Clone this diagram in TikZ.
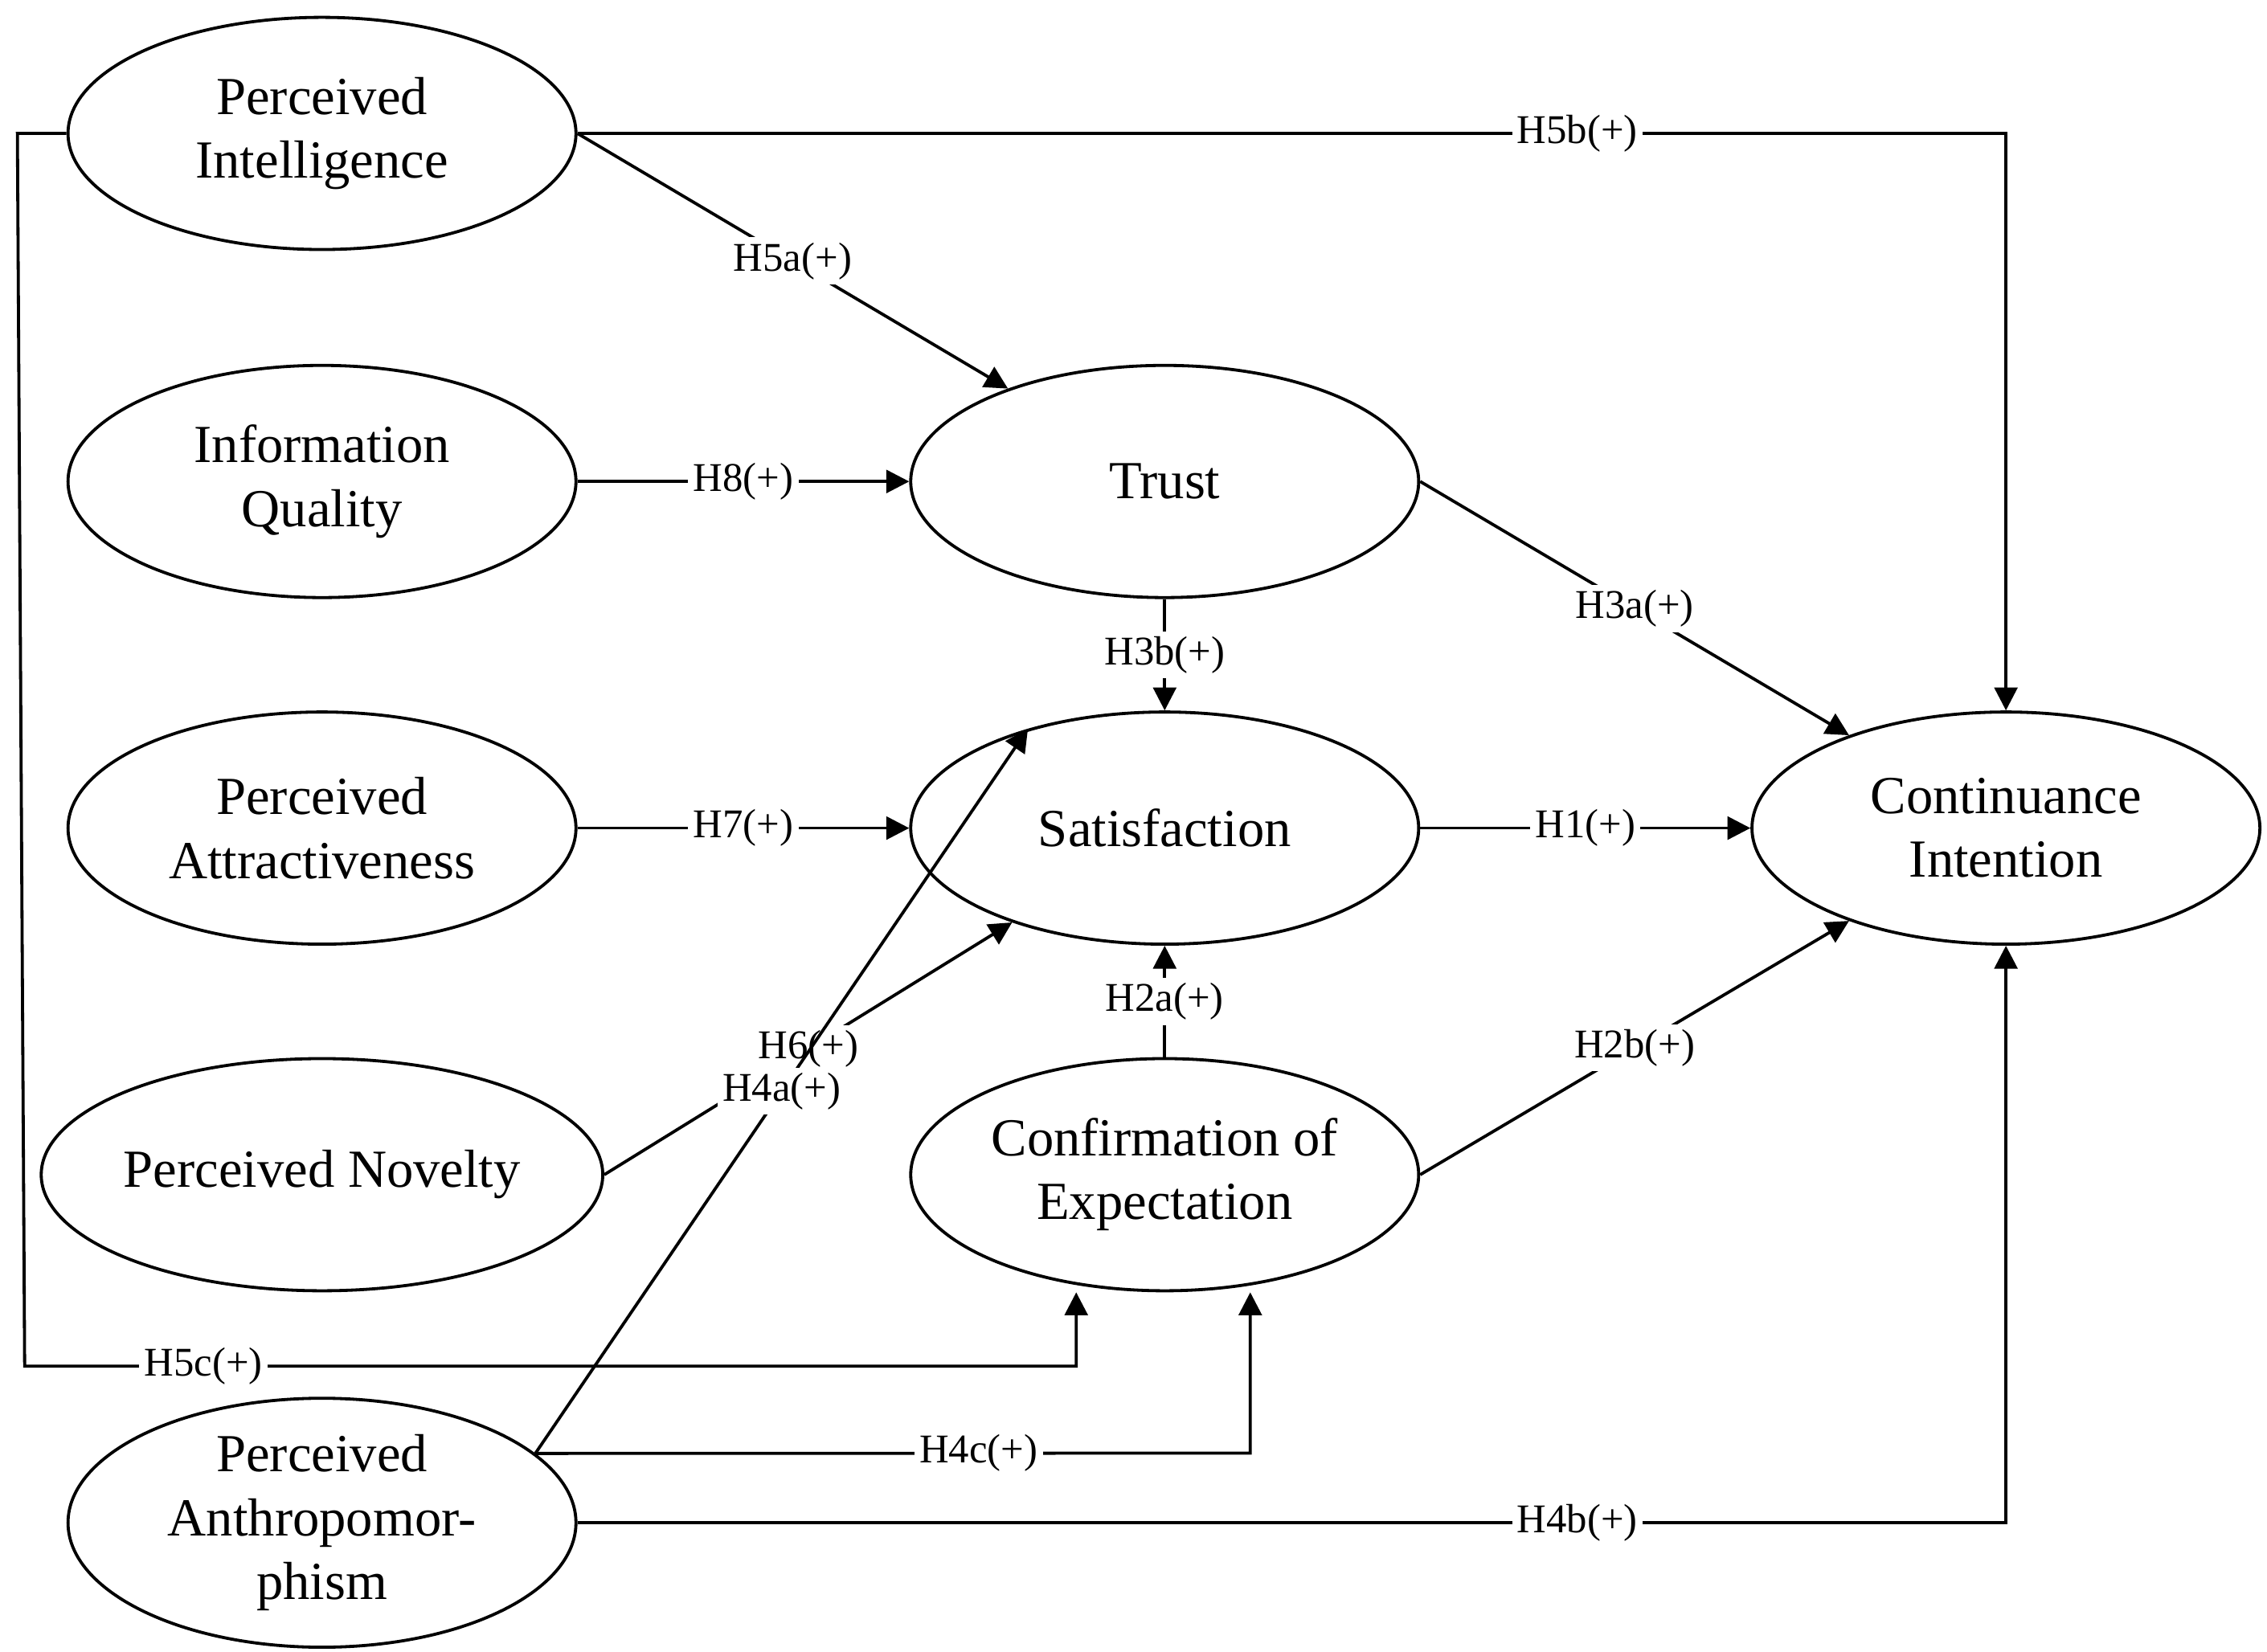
\documentclass[tikz,border=0pt]{standalone}
\usepackage{fontspec}
\setmainfont{Liberation Serif}
\usetikzlibrary{shapes.geometric,arrows.meta}
\begin{document}
\begin{tikzpicture}[x=0.01cm,y=-0.01cm,
  cons/.style={ellipse,draw,line width=0.6pt,minimum width=3.5cm,minimum height=1.6cm,inner sep=0pt,align=center,font=\fontsize{10.5}{12.5}\selectfont},
  lab/.style={fill=white,inner sep=1pt,font=\fontsize{8}{9}\selectfont},
  arr/.style={line width=0.6pt,-{Triangle[length=4.5pt,width=4.5pt]}},
  ln/.style={line width=0.6pt}]
\useasboundingbox (0,0) rectangle (1563,1139);
\node[cons] (PI) at (222,92) {Perceived\\Intelligence};
\node[cons] (IQ) at (222,332) {Information\\Quality};
\node[cons] (PA) at (222,571) {Perceived\\Attractiveness};
\node[cons] (PN) at (222,810) {Perceived Novelty};
\node[cons] (PAn) at (222,1050) {Perceived\\Anthropomor-\\phism};
\node[cons] (T) at (803,332) {Trust};
\node[cons] (S) at (803,571) {Satisfaction};
\node[cons] (C) at (803,810) {Confirmation of\\Expectation};
\node[cons] (CI) at (1383,571) {Continuance\\Intention};
\coordinate (a1) at (1383,92);
\coordinate (b1) at (12,92);
\coordinate (b2) at (17,942);
\coordinate (b3) at (742,942);
\coordinate (c1) at (PAn.18.6);
\coordinate (c2) at (862,1002);
\coordinate (d1) at (1383,1050);
% edges
\draw[arr] (PI.east) -- (a1) node[lab,pos=0.7]{H5b(+)} -- (CI.north);
\draw[arr] (PI.east) -- (T) node[lab,pos=0.5]{H5a(+)};
\draw[arr] (IQ.east) -- (T.west) node[lab,midway]{H8(+)};
\draw[arr] (T.east) -- (CI) node[lab,pos=0.5]{H3a(+)};
\draw[arr] (T.south) -- (S.north) node[lab,midway]{H3b(+)};
\draw[arr] (PA.east) -- (S.west) node[lab,midway]{H7(+)};
\draw[arr] (S.east) -- (CI.west) node[lab,midway]{H1(+)};
\draw[arr] (PN.east) -- (S) node[lab,pos=0.5]{H6(+)};
\draw[arr] (c1) -- (S.144) node[lab,pos=0.5]{H4a(+)};
\draw[arr] (C.north) -- (S.south) node[lab,midway]{H2a(+)};
\draw[arr] (C.east) -- (CI) node[lab,pos=0.5]{H2b(+)};
\draw[arr] (PI.west) -- (b1) -- (b2) -- (b3) node[lab,pos=0.17]{H5c(+)} -- (C.south -| b3);
\draw[arr] (c1) -- (c2) node[lab,pos=0.62]{H4c(+)} -- (C.south -| c2);
\draw[arr] (PAn.east) -- (d1) node[lab,pos=0.7]{H4b(+)} -- (CI.south);
\end{tikzpicture}
\end{document}
